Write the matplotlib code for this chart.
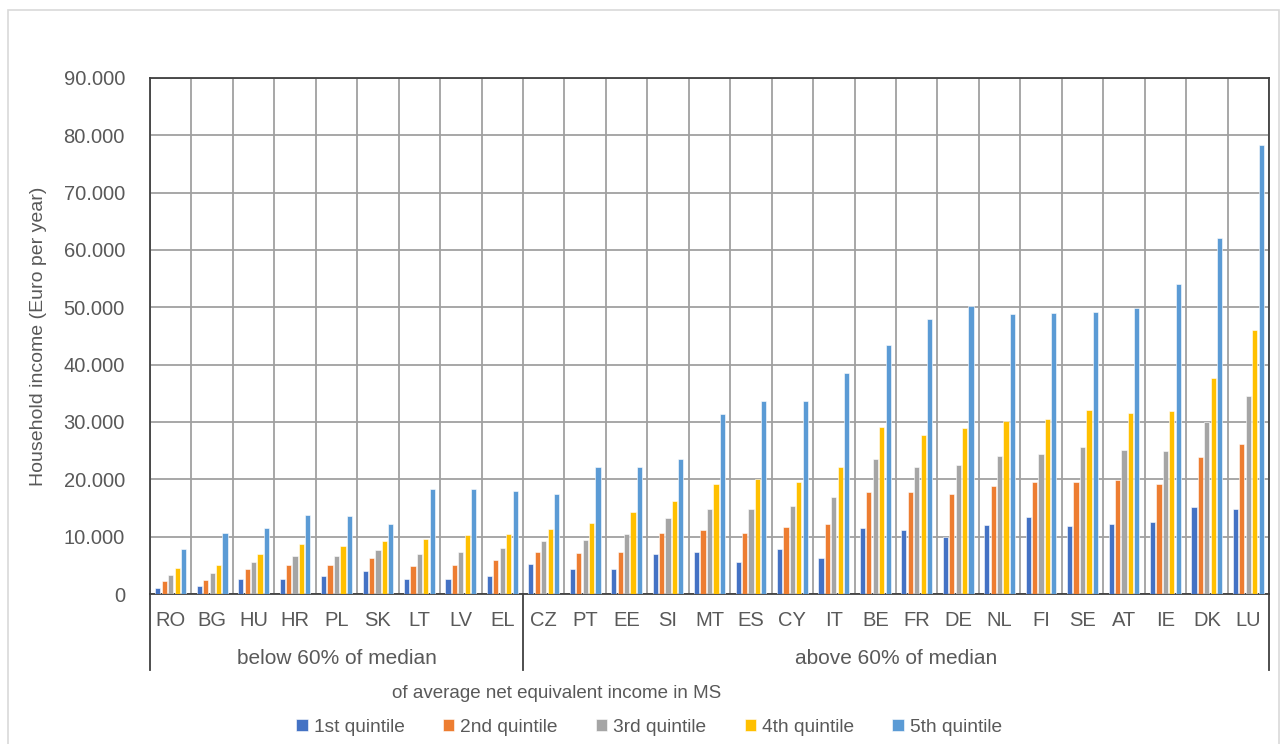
import matplotlib.pyplot as plt
from matplotlib.patches import Rectangle
from matplotlib.ticker import FuncFormatter
import numpy as np

plt.rcParams['font.family'] = ['Liberation Sans', 'DejaVu Sans']

countries = ['RO', 'BG', 'HU', 'HR', 'PL', 'SK', 'LT', 'LV', 'EL',
             'CZ', 'PT', 'EE', 'SI', 'MT', 'ES', 'CY', 'IT', 'BE', 'FR',
             'DE', 'NL', 'FI', 'SE', 'AT', 'IE', 'DK', 'LU']
groups = ['below 60% of median', 'above 60% of median']
group_sizes = [9, 18]

q1 = [1000, 1400, 2700, 2700, 3200, 4000, 2600, 2600, 3200,
      5200, 4300, 4400, 7000, 7400, 5600, 7800, 6300, 11500, 11200,
      9900, 12100, 13400, 11800, 12200, 12600, 15100, 14900]
q2 = [2300, 2500, 4300, 5000, 5100, 6300, 4800, 5100, 5900,
      7400, 7100, 7400, 10700, 11200, 10600, 11600, 12200, 17800, 17800,
      17400, 18900, 19500, 19600, 19900, 19100, 23900, 26200]
q3 = [3300, 3600, 5500, 6700, 6600, 7600, 7000, 7400, 8000,
      9200, 9400, 10500, 13300, 14900, 14900, 15300, 16900, 23600, 22100,
      22500, 24000, 24500, 25600, 25200, 24900, 30000, 34600]
q4 = [4600, 5000, 7000, 8800, 8400, 9200, 9600, 10300, 10400,
      11300, 12400, 14300, 16200, 19100, 20100, 19600, 22200, 29200, 27700,
      28900, 30200, 30500, 32100, 31600, 32000, 37600, 46100]
q5 = [7800, 10600, 11500, 13700, 13600, 12200, 18300, 18300, 17900,
      17400, 22200, 22200, 23600, 31400, 33700, 33600, 38500, 43400, 47900,
      50300, 48900, 49000, 49200, 49900, 54100, 62100, 78400]

series = [q1, q2, q3, q4, q5]
labels = ['1st quintile', '2nd quintile', '3rd quintile', '4th quintile', '5th quintile']
colors = ['#4472C4', '#ED7D31', '#A5A5A5', '#FFC000', '#5B9BD5']
txt = '#595959'

fig = plt.figure(figsize=(12.87, 7.44), dpi=100)
ax = fig.add_axes([150/1287, 150/744, 1119/1287, 516/744])

# light frame around the whole chart area
fig.patches.append(Rectangle((8/1287, -0.01), 1271/1287, 734/744 + 0.01,
                             transform=fig.transFigure, fill=False,
                             edgecolor='#D9D9D9', linewidth=1.2))

x = np.arange(len(countries))
step = 0.155
width = 0.125
for i, (vals, lab, col) in enumerate(zip(series, labels, colors)):
    ax.bar(x + (i - 2) * step, vals, width, color=col, label=lab,
           edgecolor='white', linewidth=0.4, zorder=3)

ax.set_xlim(-0.5, len(countries) - 0.5)
ax.set_ylim(0, 90000)
ax.set_yticks(np.arange(0, 90001, 10000))
ax.yaxis.set_major_formatter(FuncFormatter(lambda v, p: f'{int(v):,}'.replace(',', '.')))
ax.set_xticks(x)
ax.set_xticklabels(countries)
ax.tick_params(axis='both', length=0, labelsize=14.5, colors=txt)
ax.tick_params(axis='x', pad=12)
ax.tick_params(axis='y', pad=18)

# grid: horizontal at ticks, vertical at category boundaries
ax.set_xticks(np.arange(-0.5, len(countries)), minor=True)
ax.tick_params(axis='x', which='minor', length=0)
ax.grid(axis='y', which='major', color='#A0A0A0', linewidth=1.3, zorder=0)
ax.grid(axis='x', which='minor', color='#A0A0A0', linewidth=1.3, zorder=0)
ax.grid(axis='x', which='major', visible=False)

for s in ax.spines.values():
    s.set_color('#404040')
    s.set_linewidth(1.3)

ax.set_ylabel('Household income (Euro per year)', fontsize=14, color=txt, labelpad=12)

# group separators and labels below the axis
xt = ax.get_xaxis_transform()
bounds = np.concatenate([[0], np.cumsum(group_sizes)]) - 0.5
for b in bounds:
    ax.plot([b, b], [0, -76/516], color='#404040', linewidth=1.3,
            transform=xt, clip_on=False)
for g, lo, hi in zip(groups, bounds[:-1], bounds[1:]):
    ax.text((lo + hi) / 2, -64/516, g, transform=xt, ha='center', va='center',
            fontsize=15, color=txt)

fig.text(557/1287, 1 - 693/744, 'of average net equivalent income in MS',
         ha='center', va='center', fontsize=13.5, color=txt)

fig.legend(loc='center', bbox_to_anchor=(649/1287, 1 - 727/744), ncol=5,
           frameon=False, fontsize=13.8, handlelength=0.6, handleheight=0.6,
           handletextpad=0.3, columnspacing=2.0, labelcolor=txt)

fig.savefig('out.png', dpi=100)
